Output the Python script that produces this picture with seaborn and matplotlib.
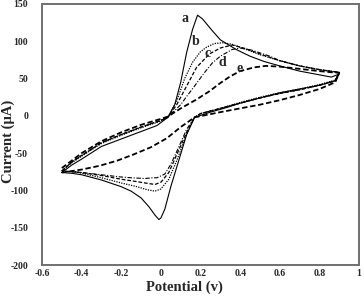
import numpy as np
import pandas as pd
import seaborn as sns
import matplotlib
matplotlib.use("Agg")
import matplotlib.pyplot as plt

# cyclic voltammograms a-e (forward scan then reverse)
pot_a = [-0.5, -0.45, -0.4, -0.3, -0.2, -0.1, -0.02, 0.035, 0.07, 0.1, 0.13, 0.16, 0.185, 0.21, 0.26, 0.3, 0.38, 0.45, 0.52, 0.6, 0.7, 0.8, 0.86, 0.9,
         0.88, 0.8, 0.7, 0.6, 0.5, 0.4, 0.33, 0.25, 0.17, 0.13, 0.09, 0.05, 0.02, 0.0, -0.01, -0.03, -0.06, -0.1, -0.15, -0.2, -0.3, -0.4, -0.45, -0.5]
cur_a = [-76, -66, -58, -41, -31, -21, -13, -2, 15, 45, 85, 116, 135, 130, 114, 102, 89, 80, 73, 67, 60, 55, 52, 56,
         47, 41, 36, 31, 24, 17, 11, 5, -2, -25, -60, -95, -125, -137, -139, -133, -122, -110, -101, -95, -86, -79, -77, -76]

pot_b = [-0.5, -0.45, -0.4, -0.3, -0.2, -0.1, 0.0, 0.035, 0.08, 0.12, 0.16, 0.2, 0.23, 0.27, 0.31, 0.36, 0.43, 0.5, 0.6, 0.7, 0.8, 0.88, 0.9,
         0.88, 0.8, 0.7, 0.6, 0.5, 0.4, 0.3, 0.2, 0.17, 0.13, 0.08, 0.04, 0.0, -0.03, -0.07, -0.12, -0.2, -0.3, -0.43, -0.5]
cur_b = [-74, -63, -54, -37, -26, -16, -7, -2, 20, 50, 72, 86, 92, 97, 98, 96, 89, 82, 74, 67, 62, 59, 58,
         48, 42, 36, 31, 25, 18, 10, 3, -2, -25, -60, -85, -98, -101, -99, -95, -90, -83, -75, -74]

pot_c = [-0.5, -0.45, -0.4, -0.3, -0.2, -0.1, 0.0, 0.035, 0.08, 0.13, 0.18, 0.245, 0.3, 0.36, 0.43, 0.5, 0.6, 0.7, 0.8, 0.88, 0.9,
         0.88, 0.8, 0.7, 0.6, 0.5, 0.4, 0.3, 0.2, 0.17, 0.13, 0.08, 0.04, 0.0, -0.03, -0.08, -0.15, -0.2, -0.3, -0.4, -0.5]
cur_c = [-74, -62, -53, -36, -25, -15, -6, -2, 15, 40, 65, 83, 91, 95, 90, 83, 74, 67, 62, 59, 58,
         47, 41, 35, 30, 24, 17, 10, 3, -2, -22, -52, -76, -89, -92, -90, -87, -85, -80, -76, -74]

pot_d = [-0.5, -0.45, -0.4, -0.3, -0.2, -0.1, 0.0, 0.035, 0.1, 0.13, 0.17, 0.22, 0.26, 0.3, 0.36, 0.4, 0.46, 0.55, 0.6, 0.7, 0.8, 0.88, 0.9,
         0.88, 0.8, 0.7, 0.6, 0.5, 0.4, 0.3, 0.2, 0.17, 0.13, 0.09, 0.05, 0.02, -0.02, -0.04, -0.08, -0.15, -0.2, -0.3, -0.4, -0.5]
cur_d = [-74, -62, -53, -36, -25, -15, -6, -2, 15, 26, 40, 58, 71, 80, 89, 91, 88, 80, 74, 67, 62, 59, 58,
         47, 41, 35, 30, 24, 17, 10, 3, -2, -18, -42, -65, -78, -83, -83, -84, -83, -82, -79, -76, -74]

pot_e = [-0.5, -0.45, -0.4, -0.3, -0.2, -0.1, 0.0, 0.035, 0.1, 0.18, 0.245, 0.3, 0.35, 0.4, 0.47, 0.53, 0.6, 0.7, 0.8, 0.88, 0.9,
         0.88, 0.8, 0.7, 0.6, 0.5, 0.4, 0.3, 0.17, 0.1, 0.03, -0.05, -0.14, -0.22, -0.31, -0.4, -0.5]
cur_e = [-70, -60, -50, -34, -22, -12, -4, -1, 10, 22, 33, 44, 53, 60, 65, 67, 66, 63, 60, 58, 58,
         45, 36, 28, 21, 15, 10, 5, -2, -15, -30, -42, -52, -60, -67, -72, -76]

labels = ["a", "b", "c", "d", "e"]
label_pos = [(0.12, 130), (0.176, 100), (0.237, 84), (0.312, 71), (0.396, 63)]

x_ticks = [-0.6, -0.4, -0.2, 0, 0.2, 0.4, 0.6, 0.8, 1]
x_ticklabels = ["-0.6", "-0.4", "-0.2", "0", "0.2", "0.4", "0.6", "0.8", "1"]
y_ticks = [-200, -150, -100, -50, 0, 50, 100, 150]
y_ticklabels = ["-200", "-150", "-100", "-50", "0", "50", "100", "150"]

sns.set_style("white")
plt.rcParams['font.family'] = ['Liberation Serif', 'DejaVu Serif']
plt.rcParams['font.weight'] = 'bold'
plt.rcParams['axes.unicode_minus'] = False

fig = plt.figure(figsize=(3.64, 2.96), dpi=100)
ax = fig.add_axes([0.1154, 0.1047, 0.8709, 0.8818])

styles = {
    "a": dict(linestyle="-", linewidth=0.8),
    "b": dict(linestyle=(0, (1, 1)), linewidth=0.9),
    "c": dict(linestyle=(0, (3, 1.5)), linewidth=0.9),
    "d": dict(linestyle=(0, (4, 1.5, 1, 1.5)), linewidth=0.8),
    "e": dict(linestyle=(0, (3, 1.5)), linewidth=1.3),
}
curves = {"a": (pot_a, cur_a), "b": (pot_b, cur_b), "c": (pot_c, cur_c),
          "d": (pot_d, cur_d), "e": (pot_e, cur_e)}

for name in labels:
    p, c = curves[name]
    df = pd.DataFrame({"Potential": p, "Current": c})
    sns.lineplot(data=df, x="Potential", y="Current", sort=False, estimator=None,
                 color="black", ax=ax, **styles[name])

for name, (lx, ly) in zip(labels, label_pos):
    ax.text(lx, ly, name, fontsize=10, fontweight="bold", ha="center", va="center")

ax.set_xlim(-0.6, 1.0)
ax.set_ylim(-200, 150)
ax.set_xticks(x_ticks)
ax.set_xticklabels(x_ticklabels)
ax.set_yticks(y_ticks)
ax.set_yticklabels(y_ticklabels)
ax.tick_params(direction="in", length=2, width=0.8, color="#777777", labelsize=7)
ax.tick_params(axis="y", pad=10)
ax.tick_params(axis="x", pad=3)
for lab in ax.get_xticklabels() + ax.get_yticklabels():
    lab.set_fontweight("bold")
for sp in ax.spines.values():
    sp.set_color("#707070")
    sp.set_linewidth(1.4)

ax.set_xlabel("Potential (v)", fontsize=10.5, fontweight="bold", va="center")
ax.xaxis.set_label_coords(0.448, -0.084)
ax.set_ylabel("Current (μA)", fontsize=10.5, fontweight="bold", va="center")
ax.yaxis.set_label_coords(-0.107, 0.475)

fig.savefig("out.png", dpi=100)
